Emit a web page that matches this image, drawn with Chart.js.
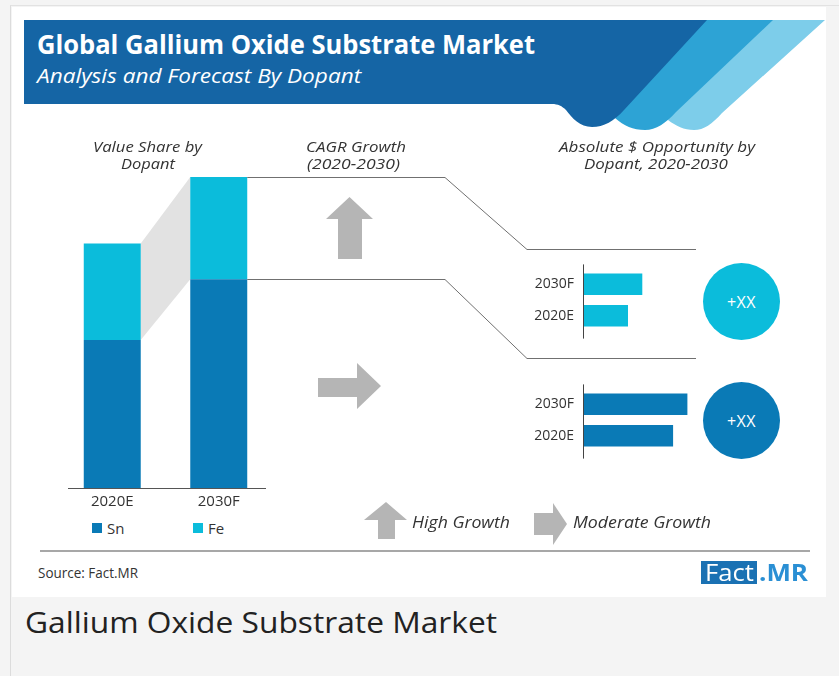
<!DOCTYPE html>
<html>
<head>
<meta charset="utf-8">
<title>Gallium Oxide Substrate Market</title>
<script src="https://cdn.jsdelivr.net/npm/chart.js@4.4.1/dist/chart.umd.min.js"></script>
<style>
  html, body { margin: 0; padding: 0; }
  body {
    width: 839px; height: 676px; position: relative; overflow: hidden;
    background: #f4f4f4; font-family: "Open Sans", sans-serif; color: #333;
  }
  #frame { position: absolute; left: 10px; top: 5px; width: 840px; height: 690px;
           border-left: 1px solid #dcdcdc; border-top: 1px solid #e2e2e2; }
  #card { position: absolute; left: 12px; top: 7px; width: 814px; height: 590px; background: #fff; }
  #decor { position: absolute; left: 0; top: 0; }
  canvas { position: absolute; }
  .txt { position: absolute; white-space: nowrap; line-height: 1.2;
         transform-origin: 0 50%; transform: translateY(-50%); }
  .it { font-style: italic; font-size: 15px; color: #333; }
  .circle { position: absolute; width: 77px; height: 77px; border-radius: 50%;
            display: flex; align-items: center; justify-content: center;
            color: #fff; font-size: 16px; letter-spacing: 0.5px; }
  .sq { position: absolute; width: 10px; height: 10px; }
</style>
</head>
<body>
<div id="frame"></div>
<div id="card"></div>

<svg id="decor" width="839" height="676">
  <!-- header swooshes -->
  <path d="M825 20 L722 113 C712 124 704 130 694 130 C684 130 676 126 668 120 L720 20 Z" fill="#7dcdea"/>
  <path d="M773 20 L676 112 C666 123 656 130 645 130 C633 130 624 126 615 118 L660 20 Z" fill="#2da3d5"/>
  <path d="M24 20 L707 20 L624 110 C614 121 604 127 592 127 C580 127 572 118 566 110 C562 106 558 104 552 104 L24 104 Z" fill="#1565a5"/>
  <!-- growth arrows -->
  <polygon points="349.5,197 373,219 362,219 362,259 338,259 338,219 326,219" fill="#b5b5b5"/>
  <polygon points="318,378 357,378 357,363 381,386 357,409 357,397 318,397" fill="#b5b5b5"/>
  <polygon points="386,502 407,520 395,520 395,539 378,539 378,520 364,520" fill="#b5b5b5"/>
  <polygon points="534,513 553,513 553,503 567,524 553,545 553,535 534,535" fill="#b5b5b5"/>
  <!-- footer rule -->
  <line x1="40" y1="551" x2="810" y2="551" stroke="#8a8a8a" stroke-width="1.5"/>
</svg>

<canvas id="shareChart" width="680" height="366" style="left:24px;top:150px"></canvas>
<canvas id="feChart" width="180" height="100" style="left:520px;top:250px"></canvas>
<canvas id="snChart" width="180" height="100" style="left:520px;top:370px"></canvas>

<div class="circle" style="left:703px;top:263px;background:#0bbcdb">+XX</div>
<div class="circle" style="left:703px;top:382px;background:#0a7ab6">+XX</div>

<div class="txt" data-w="498" style="left:37px;top:44px;font-size:27px;font-weight:700;color:#fff">Global Gallium Oxide Substrate Market</div>
<div class="txt" data-w="324" style="left:37px;top:76px;font-size:20px;font-style:italic;color:#fff">Analysis and Forecast By Dopant</div>

<div class="txt it" data-w="109" style="left:93px;top:146px">Value Share by</div>
<div class="txt it" data-w="54" style="left:121px;top:163px">Dopant</div>
<div class="txt it" data-w="100" style="left:306px;top:146px">CAGR Growth</div>
<div class="txt it" data-w="93" style="left:307px;top:163px">(2020-2030)</div>
<div class="txt it" data-w="196" style="left:559px;top:146px">Absolute $ Opportunity by</div>
<div class="txt it" data-w="144" style="left:584px;top:163px">Dopant, 2020-2030</div>

<div class="sq" style="left:92px;top:523px;background:#0a7ab6"></div>
<div class="txt" style="left:107px;top:528px;font-size:15px;color:#333">Sn</div>
<div class="sq" style="left:193px;top:523px;background:#0bbcdb"></div>
<div class="txt" style="left:208px;top:528px;font-size:15px;color:#333">Fe</div>

<div class="txt it" data-w="98" style="left:412px;top:523px;font-size:16px">High Growth</div>
<div class="txt it" data-w="138" style="left:573px;top:523px;font-size:16px">Moderate Growth</div>

<div class="txt" data-w="100" style="left:38px;top:572px;font-size:15px;color:#333">Source: Fact.MR</div>
<div style="position:absolute;left:701px;top:561px;width:56px;height:23px;background:#1a71b3"></div>
<div class="txt" data-w="49" style="left:705px;top:572px;font-size:24px;color:#fff">Fact</div>
<div class="txt" data-w="49" style="left:759px;top:572px;font-size:24px;font-weight:700;color:#2a8fd4">.MR</div>

<div class="txt" data-w="472" style="left:25px;top:622px;font-size:29px;color:#222">Gallium Oxide Substrate Market</div>

<script>
// value share by dopant (stacked, relative units)
const years = ['2020E', '2030F'];
const snShare = [47.6, 67.1];
const feShare = [31.0, 32.9];

// absolute $ opportunity by dopant
const oppLabels = ['2030F', '2020E'];
const feOpportunity = [5.3, 4.0];
const snOpportunity = [9.4, 8.1];

const SN_COLOR = '#0a7ab6';
const FE_COLOR = '#0bbcdb';

// gray band between the Fe segments, baseline and the connector lines to the right panels
const shareDecor = {
  id: 'shareDecor',
  beforeDatasetsDraw(chart) {
    const ctx = chart.ctx;
    const fe = chart.getDatasetMeta(1).data;
    const a = fe[0], b = fe[1];
    ctx.save();
    ctx.fillStyle = '#e2e2e2';
    ctx.beginPath();
    ctx.moveTo(a.x + a.width / 2, a.y);
    ctx.lineTo(b.x - b.width / 2, b.y);
    ctx.lineTo(b.x - b.width / 2, b.base);
    ctx.lineTo(a.x + a.width / 2, a.base);
    ctx.closePath();
    ctx.fill();
    ctx.restore();
  },
  afterDatasetsDraw(chart) {
    const ctx = chart.ctx;
    const area = chart.chartArea;
    const b = chart.getDatasetMeta(1).data[1];
    ctx.save();
    ctx.strokeStyle = '#555';
    ctx.lineWidth = 1;
    const by = Math.round(area.bottom) + 0.5;
    ctx.beginPath();
    ctx.moveTo(area.left + 9, by);
    ctx.lineTo(area.right - 6, by);
    ctx.stroke();

    // connectors (canvas sits at 24,150 on the page)
    ctx.strokeStyle = '#707070';
    const x0 = b.x + b.width / 2;
    [[b.y, 99], [b.base, 208]].forEach(([y1, y2]) => {
      const ya = Math.round(y1) + 0.5, yb = y2 + 0.5;
      ctx.beginPath();
      ctx.moveTo(x0, ya);
      ctx.lineTo(421, ya);
      ctx.lineTo(503, yb);
      ctx.lineTo(672, yb);
      ctx.stroke();
    });
    ctx.restore();
  }
};

new Chart(document.getElementById('shareChart'), {
  type: 'bar',
  data: {
    labels: years,
    datasets: [
      { label: 'Sn', data: snShare, backgroundColor: SN_COLOR },
      { label: 'Fe', data: feShare, backgroundColor: FE_COLOR }
    ]
  },
  options: {
    responsive: false,
    animation: false,
    layout: { padding: { left: 35, right: 432, top: 27, bottom: 0 } },
    plugins: { legend: { display: false }, tooltip: { enabled: false } },
    datasets: { bar: { barPercentage: 0.535, categoryPercentage: 1 } },
    scales: {
      x: {
        stacked: true,
        grid: { display: false, drawTicks: false },
        border: { display: false },
        ticks: { color: '#333', font: { family: 'Open Sans', size: 15 }, padding: 5 }
      },
      y: { stacked: true, display: false, min: 0, max: 100 }
    }
  },
  plugins: [shareDecor]
});

const axisLine = {
  id: 'axisLine',
  afterDatasetsDraw(chart) {
    const ctx = chart.ctx;
    const area = chart.chartArea;
    const x = Math.round(area.left) - 0.5;
    ctx.save();
    ctx.strokeStyle = '#444';
    ctx.lineWidth = 1;
    ctx.beginPath();
    ctx.moveTo(x, area.top - 4);
    ctx.lineTo(x, area.bottom + 7);
    ctx.stroke();
    ctx.restore();
  }
};

function opportunityChart(id, values, color, padTop, padBottom) {
  return new Chart(document.getElementById(id), {
    type: 'bar',
    data: { labels: oppLabels, datasets: [{ data: values, backgroundColor: color }] },
    options: {
      indexAxis: 'y',
      responsive: false,
      animation: false,
      layout: { padding: { left: 0, right: 6, top: padTop, bottom: padBottom } },
      plugins: { legend: { display: false }, tooltip: { enabled: false } },
      datasets: { bar: { barPercentage: 0.68, categoryPercentage: 1 } },
      scales: {
        x: { display: false, min: 0, max: 10 },
        y: {
          grid: { display: false, drawTicks: false },
          border: { display: false },
          ticks: { color: '#333', font: { family: 'Open Sans', size: 14 }, padding: 10 },
          afterFit(scale) { scale.width = 64; }
        }
      }
    },
    plugins: [axisLine]
  });
}

opportunityChart('feChart', feOpportunity, FE_COLOR, 10, 11);
opportunityChart('snChart', snOpportunity, SN_COLOR, 11.25, 9.75);

// squeeze the text lines to the widths of the original artwork
function fitTexts() {
  document.querySelectorAll('.txt[data-w]').forEach(el => {
    const w = el.getBoundingClientRect().width;
    const target = +el.dataset.w;
    el.style.transform = 'translateY(-50%) scaleX(' + (target / w).toFixed(3) + ')';
  });
}
document.fonts.ready.then(fitTexts);
</script>
</body>
</html>
